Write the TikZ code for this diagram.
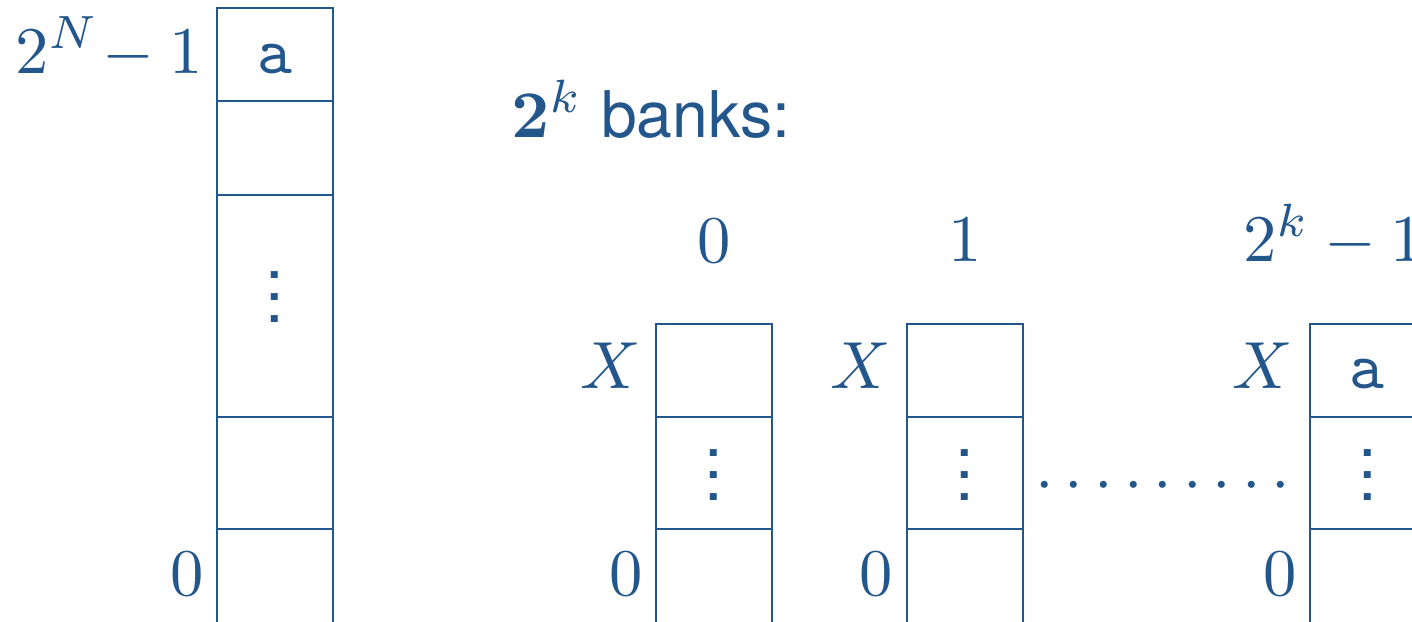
\documentclass[tikz,border=0pt]{standalone}
\usepackage[no-math]{fontspec}
\setmainfont{TeX Gyre Heros}
\definecolor{bankblue}{RGB}{35,87,140}
\newcommand\cellvdots{\vbox{\baselineskip3.3pt\lineskiplimit0pt\hbox{.}\hbox{.}\hbox{.}}}
\begin{document}
\begin{tikzpicture}[x=0.15pt,y=-0.15pt,
  every node/.style={inner sep=0pt,text=bankblue},
  cellline/.style={draw=bankblue,line width=0.35pt},
  lbl/.style={anchor=base east},
  toplbl/.style={anchor=base},
  vd/.style={anchor=center}]
\useasboundingbox (0,0) rectangle (1412,621);
\clip (0,0) rectangle (1412,621);
% left memory column
\draw[cellline] (217,700) -- (217,8) -- (333,8) -- (333,700);
\foreach \yy in {101,195,417,529} \draw[cellline] (217,\yy) -- (333,\yy);
\node[lbl] (topaddr) at (204,73) {$2^N\!-1$};
\node[toplbl] (topval) at (275,73) {\texttt{a}};
\node[vd] (leftdots) at (275,297) {\cellvdots};
\node[lbl] (botaddr) at (205,595) {$0$};
% title
\node[anchor=base west] (title) at (510,137) {$\mathbf{2}^k$ {\fontsize{9.65pt}{12pt}\selectfont banks:}};
% banks
\foreach \xa/\nm in {656/b0,907/b1,1310/b2}{
  \draw[cellline] (\xa,700) -- (\xa,324) -- (\xa+116,324) -- (\xa+116,700);
  \foreach \yy in {417,529} \draw[cellline] (\xa,\yy) -- (\xa+116,\yy);
}
\node[toplbl] (b0lab) at (714,262) {$0$};
\node[toplbl] (b1lab) at (965,261) {$1$};
\node[anchor=base west] (b2lab) at (1242,261) {$2^k-1$};
\node[lbl] (b0X) at (642,388) {$X$};
\node[lbl] (b1X) at (892,388) {$X$};
\node[lbl] (b2X) at (1294,388) {$X$};
\node[lbl] (b0z) at (644,595) {$0$};
\node[lbl] (b1z) at (894,595) {$0$};
\node[lbl] (b2z) at (1298,595) {$0$};
\node[toplbl] (b2val) at (1367,388) {\texttt{a}};
\node[vd] (b0dots) at (714,475) {\cellvdots};
\node[vd] (b1dots) at (965,475) {\cellvdots};
\node[vd] (b2dots) at (1368,475) {\cellvdots};
\node[anchor=base west] (rowdots) at (1034,501) {$\cdots\cdots\cdots$};
\end{tikzpicture}
\end{document}
